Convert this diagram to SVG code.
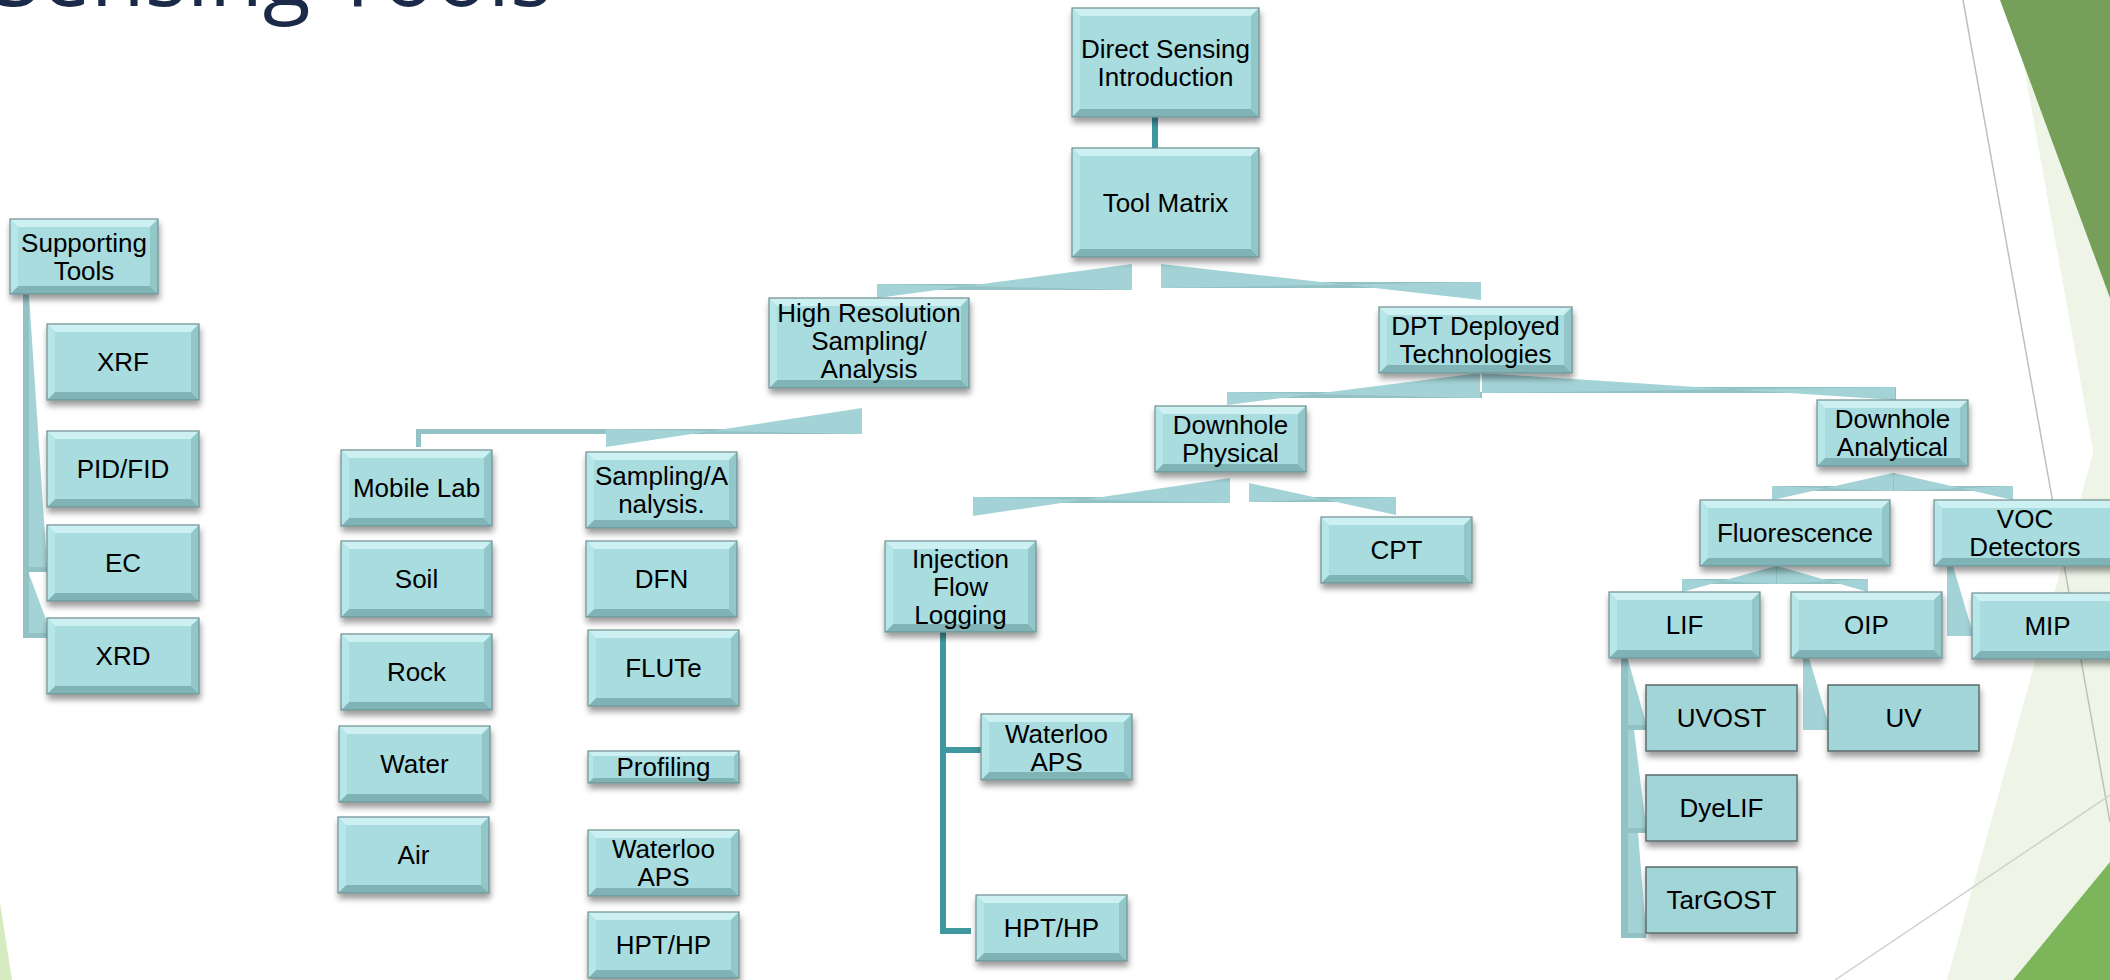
<svg xmlns="http://www.w3.org/2000/svg" width="2110" height="980" viewBox="0 0 2110 980">
<style>
.nf{fill:#A8DCDF}
.nb{fill:none;stroke:#6F8F91;stroke-width:1.2}
.bt{fill:#CDF1F3}
.bb{fill:#80B3B6}
.bl{fill:#B7E6E8}
.br{fill:#92C7CA}
.flat{fill:#A2D5D8;stroke:#5D6B6C;stroke-width:1.5}
.t{font-family:"Liberation Sans",Arial,sans-serif;font-size:26px;fill:#000;text-anchor:middle}
.title{font-family:"Open Sans","Noto Sans",sans-serif;font-size:88px;fill:#1B2A48;text-anchor:end}
.cw{fill:#A3D3D6}
.cb{fill:#93C2C5}
.dk{stroke:#3F97A0;stroke-width:6;fill:none;stroke-linecap:square}
</style>
<defs>
<filter id="sh" x="-10%" y="-20%" width="125%" height="170%">
<feGaussianBlur in="SourceAlpha" stdDeviation="3"/>
<feOffset dx="1" dy="5" result="o"/>
<feComponentTransfer><feFuncA type="linear" slope="0.4"/></feComponentTransfer>
<feMerge><feMergeNode/><feMergeNode in="SourceGraphic"/></feMerge>
</filter>
<g id="bv-187x109" filter="url(#sh)"><rect class="nf" width="187" height="109"/><polygon class="bt" points="0,0 187,0 179,8 8,8"/><polygon class="bb" points="0,109 187,109 179,101 8,101"/><polygon class="bl" points="0,0 8,8 8,101 0,109"/><polygon class="br" points="187,0 179,8 179,101 187,109"/><rect class="nb" width="187" height="109"/></g>
<g id="bv-200x90" filter="url(#sh)"><rect class="nf" width="200" height="90"/><polygon class="bt" points="0,0 200,0 192,8 8,8"/><polygon class="bb" points="0,90 200,90 192,82 8,82"/><polygon class="bl" points="0,0 8,8 8,82 0,90"/><polygon class="br" points="200,0 192,8 192,82 200,90"/><rect class="nb" width="200" height="90"/></g>
<g id="bv-193x66" filter="url(#sh)"><rect class="nf" width="193" height="66"/><polygon class="bt" points="0,0 193,0 185,8 8,8"/><polygon class="bb" points="0,66 193,66 185,58 8,58"/><polygon class="bl" points="0,0 8,8 8,58 0,66"/><polygon class="br" points="193,0 185,8 185,58 193,66"/><rect class="nb" width="193" height="66"/></g>
<g id="bv-148x75" filter="url(#sh)"><rect class="nf" width="148" height="75"/><polygon class="bt" points="0,0 148,0 140,8 8,8"/><polygon class="bb" points="0,75 148,75 140,67 8,67"/><polygon class="bl" points="0,0 8,8 8,67 0,75"/><polygon class="br" points="148,0 140,8 140,67 148,75"/><rect class="nb" width="148" height="75"/></g>
<g id="bv-152x76" filter="url(#sh)"><rect class="nf" width="152" height="76"/><polygon class="bt" points="0,0 152,0 144,8 8,8"/><polygon class="bb" points="0,76 152,76 144,68 8,68"/><polygon class="bl" points="0,0 8,8 8,68 0,76"/><polygon class="br" points="152,0 144,8 144,68 152,76"/><rect class="nb" width="152" height="76"/></g>
<g id="bv-151x76" filter="url(#sh)"><rect class="nf" width="151" height="76"/><polygon class="bt" points="0,0 151,0 143,8 8,8"/><polygon class="bb" points="0,76 151,76 143,68 8,68"/><polygon class="bl" points="0,0 8,8 8,68 0,76"/><polygon class="br" points="151,0 143,8 143,68 151,76"/><rect class="nb" width="151" height="76"/></g>
<g id="bv-151x32" filter="url(#sh)"><rect class="nf" width="151" height="32"/><polygon class="bt" points="0,0 151,0 146,5 5,5"/><polygon class="bb" points="0,32 151,32 146,27 5,27"/><polygon class="bl" points="0,0 5,5 5,27 0,32"/><polygon class="br" points="151,0 146,5 146,27 151,32"/><rect class="nb" width="151" height="32"/></g>
<g id="bv-151x66" filter="url(#sh)"><rect class="nf" width="151" height="66"/><polygon class="bt" points="0,0 151,0 143,8 8,8"/><polygon class="bb" points="0,66 151,66 143,58 8,58"/><polygon class="bl" points="0,0 8,8 8,58 0,66"/><polygon class="br" points="151,0 143,8 143,58 151,66"/><rect class="nb" width="151" height="66"/></g>
<g id="bv-151x91" filter="url(#sh)"><rect class="nf" width="151" height="91"/><polygon class="bt" points="0,0 151,0 143,8 8,8"/><polygon class="bb" points="0,91 151,91 143,83 8,83"/><polygon class="bl" points="0,0 8,8 8,83 0,91"/><polygon class="br" points="151,0 143,8 143,83 151,91"/><rect class="nb" width="151" height="91"/></g>
<g id="bv-190x66" filter="url(#sh)"><rect class="nf" width="190" height="66"/><polygon class="bt" points="0,0 190,0 182,8 8,8"/><polygon class="bb" points="0,66 190,66 182,58 8,58"/><polygon class="bl" points="0,0 8,8 8,58 0,66"/><polygon class="br" points="190,0 182,8 182,58 190,66"/><rect class="nb" width="190" height="66"/></g>
<g id="fl-151x66" filter="url(#sh)"><rect class="flat" width="151" height="66"/></g>
</defs>

<rect width="2110" height="980" fill="#FFFFFF"/>

<g id="decor">
<polygon points="2012,0 2110,0 2110,545" fill="#EEF5E7"/>
<polygon points="2110,392 2110,980 1947,980" fill="#EEF5E7"/>
<polygon points="2000,0 2110,0 2110,298" fill="#76A05A"/>
<polygon points="2110,862 2110,980 2013,980" fill="#7DB55B"/>
<line x1="1963" y1="0" x2="2110" y2="822" stroke="#BFBFBF" stroke-width="1.5"/>
<line x1="2110" y1="795" x2="1835" y2="980" stroke="#D0D0D0" stroke-width="1.5"/>
<polygon points="0,903 12,980 0,980" fill="#D7EBC0"/>
</g>

<text class="title" x="552" y="6">Sensing Tools</text>

<g id="connectors">
<!-- Direct Sensing -> Tool Matrix -->
<line class="dk" x1="1155" y1="118" x2="1155" y2="147"/>
<!-- Tool Matrix -> High Resolution -->
<rect class="cb" x="877" y="284" width="255" height="6"/>
<polygon class="cw" points="1132,264 877,298 877,284 1132,290"/>
<!-- Tool Matrix -> DPT -->
<rect class="cb" x="1161" y="282" width="320" height="6"/>
<polygon class="cw" points="1161,264 1481,300 1481,282 1161,288"/>
<!-- High Resolution -> Mobile Lab / Sampling -->
<rect class="cb" x="416" y="429" width="446" height="5"/>
<rect class="cb" x="416" y="429" width="5" height="18"/>
<polygon class="cw" points="862,408 606,447 606,429 862,434"/>
<!-- DPT -> Downhole Physical -->
<rect class="cb" x="1227" y="392" width="255" height="6"/>
<polygon class="cw" points="1480,373 1227,405 1227,392 1480,398"/>
<!-- DPT -> Downhole Analytical -->
<rect class="cb" x="1482" y="387" width="413" height="6"/>
<rect class="cb" x="1890" y="387" width="6" height="13"/>
<polygon class="cw" points="1482,373 1895,400 1895,387 1482,393"/>
<!-- Downhole Physical -> Injection / CPT -->
<rect class="cb" x="973" y="497" width="257" height="6"/>
<polygon class="cw" points="1230,478 973,516 973,497 1230,503"/>
<rect class="cb" x="1249" y="497" width="147" height="5"/>
<polygon class="cw" points="1249,483 1396,515 1396,497 1249,502"/>
<!-- Downhole Analytical -> Fluorescence / VOC -->
<rect class="cb" x="1891" y="473" width="5" height="18"/>
<rect class="cb" x="1772" y="486" width="241" height="5"/>
<polygon class="cw" points="1893,473 1772,500 1772,486 1893,491"/>
<polygon class="cw" points="1894,473 2013,500 2013,486 1894,491"/>
<!-- Fluorescence -> LIF / OIP -->
<rect class="cb" x="1774" y="566" width="5" height="18"/>
<rect class="cb" x="1682" y="579" width="186" height="5"/>
<polygon class="cw" points="1776,566 1682,592 1682,579 1776,584"/>
<polygon class="cw" points="1777,566 1868,592 1868,579 1777,584"/>
<!-- VOC -> MIP -->
<polygon class="cw" points="1947,566 1953,566 1972,630 1972,636 1947,636"/>
<!-- LIF -> UVOST / DyeLIF / TarGOST -->
<rect class="cb" x="1621" y="658" width="7" height="280"/>
<polygon class="cw" points="1628,660 1646,723 1646,730 1628,730"/>
<rect class="cb" x="1621" y="725" width="25" height="5"/>
<polygon class="cw" points="1628,730 1634,730 1646,826 1646,833 1628,833"/>
<rect class="cb" x="1621" y="828" width="25" height="5"/>
<polygon class="cw" points="1628,833 1638,833 1646,930 1646,938 1628,938"/>
<rect class="cb" x="1621" y="933" width="25" height="5"/>
<!-- OIP -> UV -->
<polygon class="cw" points="1803,658 1809,658 1828,722 1828,730 1803,730"/>
<!-- Supporting Tools -> EC / XRD -->
<rect class="cb" x="23" y="293" width="6" height="345"/>
<polygon class="cw" points="29,295 47,566 47,572 29,572"/>
<rect class="cb" x="23" y="567" width="24" height="5"/>
<polygon class="cw" points="29,574 47,622 47,638 29,638"/>
<rect class="cb" x="23" y="633" width="24" height="5"/>
<!-- Injection Flow Logging -> Waterloo APS / HPT/HP -->
<polyline class="dk" points="943,635 943,931 968,931"/>
<line class="dk" x1="943" y1="750" x2="982" y2="750"/>
</g>

<g id="n-direct"><use href="#bv-187x109" x="1072" y="8"/><text class="t" x="1165.5" y="57.5">Direct Sensing</text><text class="t" x="1165.5" y="85.5">Introduction</text></g>
<g id="n-toolmatrix"><use href="#bv-187x109" x="1072" y="148"/><text class="t" x="1165.5" y="211.5">Tool Matrix</text></g>
<g id="n-hr"><use href="#bv-200x90" x="769" y="298"/><text class="t" x="869" y="322">High Resolution</text><text class="t" x="869" y="350">Sampling/</text><text class="t" x="869" y="378">Analysis</text></g>
<g id="n-dpt"><use href="#bv-193x66" x="1379" y="307"/><text class="t" x="1475.5" y="335">DPT Deployed</text><text class="t" x="1475.5" y="363">Technologies</text></g>
<g id="n-support"><use href="#bv-148x75" x="10" y="219"/><text class="t" x="84" y="251.5">Supporting</text><text class="t" x="84" y="279.5">Tools</text></g>
<g id="n-xrf"><use href="#bv-152x76" x="47" y="324"/><text class="t" x="123" y="371">XRF</text></g>
<g id="n-pidfid"><use href="#bv-152x76" x="47" y="431"/><text class="t" x="123" y="478">PID/FID</text></g>
<g id="n-ec"><use href="#bv-152x76" x="47" y="525"/><text class="t" x="123" y="572">EC</text></g>
<g id="n-xrd"><use href="#bv-152x76" x="47" y="618"/><text class="t" x="123" y="665">XRD</text></g>
<g id="n-mobilelab"><use href="#bv-151x76" x="341" y="450"/><text class="t" x="416.5" y="497">Mobile Lab</text></g>
<g id="n-soil"><use href="#bv-151x76" x="341" y="541"/><text class="t" x="416.5" y="588">Soil</text></g>
<g id="n-rock"><use href="#bv-151x76" x="341" y="634"/><text class="t" x="416.5" y="681">Rock</text></g>
<g id="n-water"><use href="#bv-151x76" x="339" y="726"/><text class="t" x="414.5" y="773">Water</text></g>
<g id="n-air"><use href="#bv-151x76" x="338" y="817"/><text class="t" x="413.5" y="864">Air</text></g>
<g id="n-sampling"><use href="#bv-151x76" x="586" y="452"/><text class="t" x="661.5" y="485">Sampling/A</text><text class="t" x="661.5" y="513">nalysis.</text></g>
<g id="n-dfn"><use href="#bv-151x76" x="586" y="541"/><text class="t" x="661.5" y="588">DFN</text></g>
<g id="n-flute"><use href="#bv-151x76" x="588" y="630"/><text class="t" x="663.5" y="677">FLUTe</text></g>
<g id="n-profiling"><use href="#bv-151x32" x="588" y="751"/><text class="t" x="663.5" y="776">Profiling</text></g>
<g id="n-waterloo-l"><use href="#bv-151x66" x="588" y="830"/><text class="t" x="663.5" y="858">Waterloo</text><text class="t" x="663.5" y="886">APS</text></g>
<g id="n-hpt-l"><use href="#bv-151x66" x="588" y="912"/><text class="t" x="663.5" y="954">HPT/HP</text></g>
<g id="n-dphys"><use href="#bv-151x66" x="1155" y="406"/><text class="t" x="1230.5" y="434">Downhole</text><text class="t" x="1230.5" y="462">Physical</text></g>
<g id="n-injection"><use href="#bv-151x91" x="885" y="541"/><text class="t" x="960.5" y="567.5">Injection</text><text class="t" x="960.5" y="595.5">Flow</text><text class="t" x="960.5" y="623.5">Logging</text></g>
<g id="n-cpt"><use href="#bv-151x66" x="1321" y="517"/><text class="t" x="1396.5" y="559">CPT</text></g>
<g id="n-waterloo-r"><use href="#bv-151x66" x="981" y="714"/><text class="t" x="1056.5" y="742.5">Waterloo</text><text class="t" x="1056.5" y="770.5">APS</text></g>
<g id="n-hpt-r"><use href="#bv-151x66" x="976" y="895"/><text class="t" x="1051.5" y="937">HPT/HP</text></g>
<g id="n-danal"><use href="#bv-151x66" x="1817" y="400"/><text class="t" x="1892.5" y="427.5">Downhole</text><text class="t" x="1892.5" y="455.5">Analytical</text></g>
<g id="n-fluor"><use href="#bv-190x66" x="1700" y="500"/><text class="t" x="1795" y="542">Fluorescence</text></g>
<g id="n-voc"><use href="#bv-190x66" x="1934" y="500"/><text class="t" x="2025" y="528">VOC</text><text class="t" x="2025" y="556">Detectors</text></g>
<g id="n-lif"><use href="#bv-151x66" x="1609" y="592"/><text class="t" x="1684.5" y="634">LIF</text></g>
<g id="n-oip"><use href="#bv-151x66" x="1791" y="592"/><text class="t" x="1866.5" y="634">OIP</text></g>
<g id="n-mip"><use href="#bv-151x66" x="1972" y="593"/><text class="t" x="2047.5" y="635">MIP</text></g>
<g id="n-uvost"><use href="#fl-151x66" x="1646" y="685"/><text class="t" x="1721.5" y="727">UVOST</text></g>
<g id="n-uv"><use href="#fl-151x66" x="1828" y="685"/><text class="t" x="1903.5" y="727">UV</text></g>
<g id="n-dyelif"><use href="#fl-151x66" x="1646" y="775"/><text class="t" x="1721.5" y="817">DyeLIF</text></g>
<g id="n-targost"><use href="#fl-151x66" x="1646" y="867"/><text class="t" x="1721.5" y="909">TarGOST</text></g>
</svg>
